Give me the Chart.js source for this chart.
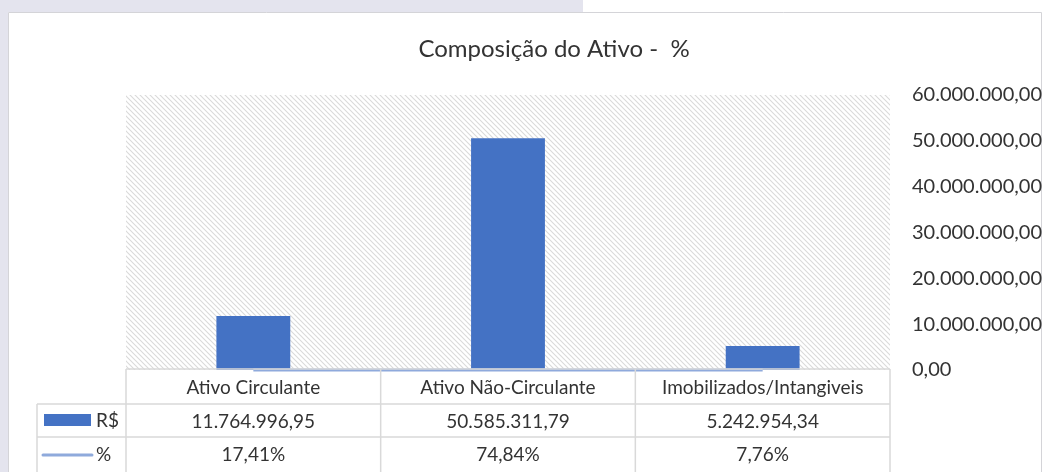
<!DOCTYPE html>
<html><head><meta charset="utf-8">
<script src="https://cdn.jsdelivr.net/npm/chart.js@4/dist/chart.umd.min.js"></script>
<style>html,body{margin:0;padding:0;background:#fff;}#wrap{width:1042px;height:472px;position:relative;}</style>
</head><body><div id="wrap"><canvas id="c" width="1042" height="472"></canvas></div>
<script>
const categories = ['Ativo Circulante', 'Ativo Não-Circulante', 'Imobilizados/Intangiveis'];
const valoresRS = [11764996.95, 50585311.79, 5242954.34];
const percentuais = [0.1741, 0.7484, 0.0776];
const seriesNames = ['R$', '%'];
const chartTitle = 'Composição do Ativo -  %';

function fmtBR(n, dec) {
  const s = Math.abs(n).toFixed(dec);
  const parts = s.split('.');
  const intPart = parts[0].replace(/\B(?=(\d{3})+(?!\d))/g, '.');
  return (n < 0 ? '-' : '') + intPart + (dec ? ',' + parts[1] : '');
}
function fmtPct(p) { return (p * 100).toFixed(2).replace('.', ',') + '%'; }

const FONT = 'Lato, "Open Sans", sans-serif';
const TXT = '#333333';
const GRID = '#d9d9d9';

function makeHatch() {
  const t = document.createElement('canvas');
  t.width = 5; t.height = 5;
  const g = t.getContext('2d');
  g.strokeStyle = '#dadada';
  g.lineWidth = 1.1;
  g.beginPath();
  g.moveTo(-1, -1); g.lineTo(6, 6);
  g.moveTo(-1, 4); g.lineTo(1, 6);
  g.moveTo(4, -1); g.lineTo(6, 1);
  g.stroke();
  return t;
}

const framePlugin = {
  id: 'frame',
  beforeDraw(chart) {
    const ctx = chart.ctx;
    const a = chart.chartArea;
    ctx.save();
    ctx.fillStyle = '#ffffff';
    ctx.fillRect(0, 0, chart.width, chart.height);
    ctx.fillStyle = '#e4e4ee';
    ctx.fillRect(0, 0, 583, 12);
    ctx.fillRect(0, 0, 8, chart.height);
    ctx.strokeStyle = '#d4d4d8';
    ctx.lineWidth = 1;
    ctx.beginPath();
    ctx.moveTo(8.5, chart.height); ctx.lineTo(8.5, 12.5); ctx.lineTo(1041.5, 12.5); ctx.lineTo(1041.5, chart.height);
    ctx.stroke();
    ctx.fillStyle = ctx.createPattern(makeHatch(), 'repeat');
    ctx.fillRect(a.left, a.top, a.right - a.left, a.bottom - a.top);
    // title
    ctx.fillStyle = TXT;
    ctx.font = '24px ' + FONT;
    ctx.textAlign = 'center';
    ctx.textBaseline = 'middle';
    ctx.fillText(chartTitle, 554, 49);
    ctx.restore();
  },
  afterDraw(chart) {
    const ctx = chart.ctx;
    const a = chart.chartArea;
    const x = chart.scales.x;
    const n = categories.length;
    const colW = (a.right - a.left) / n;
    const top = a.bottom - 1;
    const r1 = top + 35, r2 = r1 + 33, r3 = r2 + 34;
    const legL = 37;
    ctx.save();
    ctx.strokeStyle = GRID;
    ctx.lineWidth = 1.5;
    ctx.beginPath();
    ctx.moveTo(a.left, top); ctx.lineTo(a.right, top);
    ctx.moveTo(legL, r1); ctx.lineTo(a.right, r1);
    ctx.moveTo(legL, r2); ctx.lineTo(a.right, r2);
    ctx.moveTo(legL, r1); ctx.lineTo(legL, chart.height);
    for (let i = 0; i <= n; i++) {
      const xx = a.left + i * colW;
      ctx.moveTo(xx, top); ctx.lineTo(xx, chart.height);
    }
    ctx.stroke();
    ctx.fillStyle = TXT;
    ctx.font = '19px ' + FONT;
    ctx.textAlign = 'center';
    ctx.textBaseline = 'middle';
    for (let i = 0; i < n; i++) {
      const cx = x.getPixelForValue(i);
      ctx.fillText(categories[i], cx, (top + r1) / 2 + 1);
      ctx.fillText(fmtBR(valoresRS[i], 2), cx, (r1 + r2) / 2 + 1);
      ctx.fillText(fmtPct(percentuais[i]), cx, (r2 + r3) / 2 + 1);
    }
    // legend keys
    ctx.fillStyle = '#4472c4';
    ctx.fillRect(44, 414, 47, 12);
    ctx.strokeStyle = '#8faadc';
    ctx.lineWidth = 3;
    ctx.lineCap = 'round';
    ctx.beginPath(); ctx.moveTo(43, 455); ctx.lineTo(92, 455); ctx.stroke();
    ctx.fillStyle = TXT;
    ctx.textAlign = 'left';
    ctx.fillText(seriesNames[0], 96, 421);
    ctx.fillText(seriesNames[1], 96, 455);
    ctx.restore();
  }
};

new Chart(document.getElementById('c'), {
  data: {
    labels: categories,
    datasets: [
      { type: 'line', label: seriesNames[1], data: percentuais, borderColor: '#8faadc', borderWidth: 3,
        pointRadius: 0, fill: false, clip: false, order: 0, yAxisID: 'y' },
      { type: 'bar', label: seriesNames[0], data: valoresRS, backgroundColor: '#4472c4',
        categoryPercentage: 1, barPercentage: 0.29, order: 1, yAxisID: 'y' }
    ]
  },
  options: {
    responsive: false,
    animation: false,
    devicePixelRatio: 1,
    layout: { padding: { top: 95, bottom: 102, left: 126, right: 0 } },
    plugins: { legend: { display: false }, title: { display: false }, tooltip: { enabled: false } },
    scales: {
      x: { display: false, offset: true, grid: { display: false } },
      y: {
        position: 'right', min: 0, max: 60000000,
        border: { display: false },
        grid: { display: false, drawTicks: false },
        ticks: { stepSize: 10000000, padding: 22, color: TXT, font: { family: FONT, size: 20 },
          callback: v => fmtBR(v, 2) },
        afterFit(s) { s.width = 152; }
      }
    }
  },
  plugins: [framePlugin]
});
</script></body></html>
